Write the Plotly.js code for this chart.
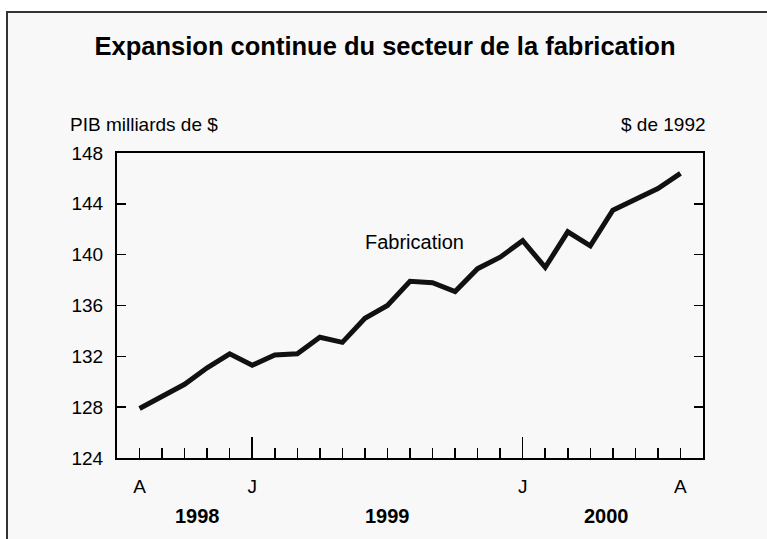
<!DOCTYPE html>
<html>
<head>
<meta charset="utf-8">
<script src="https://cdn.plot.ly/plotly-3.0.1.min.js"></script>
<style>
  html, body { margin: 0; padding: 0; background: #ffffff; }
  #wrap { position: relative; width: 767px; height: 539px; overflow: hidden; }
  #frame { position: absolute; left: 6px; top: 11px; right: -10px; bottom: -10px;
           border-top: 2px solid #333; border-left: 2px solid #333; background: #f8f8f8; }
  #chart { position: absolute; left: 0; top: 0; width: 767px; height: 539px; }
</style>
</head>
<body>
<div id="wrap">
  <div id="frame"></div>
  <div id="chart"></div>
</div>
<script>
// Monthly manufacturing GDP, Aug 1998 – Aug 2000 (billions of 1992 $)
const months = ['A','S','O','N','D','J','F','M','A','M','J','J','A','S','O','N','D',
                'J','F','M','A','M','J','J','A'];
const values = [127.9, 128.8, 129.8, 131.1, 132.2, 131.3, 132.1, 132.2, 133.5, 133.1,
                135.0, 136.0, 137.9, 137.8, 137.1, 138.9, 139.8, 141.1, 139.0, 141.8,
                140.7, 143.5, 144.4, 145.2, 146.4];
const labelledMonths = [0, 5, 17, 24];   // A, J, J, A shown on the axis
const januaryIdx = [5, 17];              // long ticks
const years = ['1998', '1999', '2000'];
const yearPos = [2.55, 11.0, 20.7];
const yTicks = [124, 128, 132, 136, 140, 144, 148];

const idx = values.map((_, i) => i);
const tickText = months.map((m, i) => labelledMonths.includes(i) ? m : '');

const FONT = 'Liberation Sans, Arial, sans-serif';

const traces = [
  { x: idx, y: values, type: 'scatter', mode: 'lines',
    line: { color: '#111', width: 5 }, hoverinfo: 'skip', showlegend: false },
  { x: idx, y: values, xaxis: 'x2', type: 'scatter', mode: 'lines',
    line: { color: 'rgba(0,0,0,0)', width: 0 }, hoverinfo: 'skip', showlegend: false }
];

const annotations = years.map((t, i) => ({
  text: '<b>' + t + '</b>', x: yearPos[i], xref: 'x', y: -0.19, yref: 'paper',
  xanchor: 'center', yanchor: 'middle', showarrow: false,
  font: { family: FONT, size: 20, color: '#000' }
}));
annotations.push(
  { text: 'PIB milliards de $', x: -0.0836, xref: 'paper', y: 1.092, yref: 'paper',
    xanchor: 'left', yanchor: 'middle', showarrow: false,
    font: { family: FONT, size: 19, color: '#000' } },
  { text: '$ de 1992', x: 1.009, xref: 'paper', y: 1.092, yref: 'paper',
    xanchor: 'right', yanchor: 'middle', showarrow: false,
    font: { family: FONT, size: 19, color: '#000' } },
  { text: 'Fabrication', x: 12.2, xref: 'x', y: 141.0, yref: 'y',
    xanchor: 'center', yanchor: 'middle', showarrow: false,
    font: { family: FONT, size: 20, color: '#000' } }
);

const layout = {
  width: 767, height: 539,
  margin: { l: 117, r: 64, t: 153, b: 81 },
  paper_bgcolor: 'rgba(0,0,0,0)',
  plot_bgcolor: 'rgba(0,0,0,0)',
  font: { family: FONT, size: 19, color: '#000' },
  title: { text: '<b>Expansion continue du secteur de la fabrication</b>',
           x: 0.502, xref: 'container', xanchor: 'center',
           y: 0.915, yref: 'container', yanchor: 'middle',
           font: { family: FONT, size: 25.5, color: '#000' } },
  xaxis: {
    range: [-1, 25], tickmode: 'array', tickvals: idx, ticktext: tickText,
    ticks: 'inside', ticklen: 10, tickwidth: 1.5, tickcolor: '#000',
    showline: true, linewidth: 2, linecolor: '#000', mirror: true,
    showgrid: false, zeroline: false, ticklabelstandoff: 10,
    tickfont: { family: FONT, size: 19, color: '#000' }, fixedrange: true
  },
  xaxis2: {
    range: [-1, 25], overlaying: 'x', anchor: 'y', side: 'bottom',
    tickmode: 'array', tickvals: januaryIdx, ticks: 'inside', ticklen: 21,
    tickwidth: 1.5, tickcolor: '#000', showticklabels: false,
    showline: false, showgrid: false, zeroline: false, fixedrange: true
  },
  yaxis: {
    range: [124, 148], tickmode: 'array', tickvals: yTicks,
    ticks: 'inside', ticklen: 9, tickwidth: 1.5, tickcolor: '#000',
    showline: true, linewidth: 2, linecolor: '#000', mirror: 'ticks',
    showgrid: false, zeroline: false, ticklabelstandoff: 8,
    tickfont: { family: FONT, size: 19, color: '#000' }, fixedrange: true
  },
  annotations: annotations,
  showlegend: false
};

Plotly.newPlot('chart', traces, layout, { displayModeBar: false, staticPlot: true });
</script>
</body>
</html>
